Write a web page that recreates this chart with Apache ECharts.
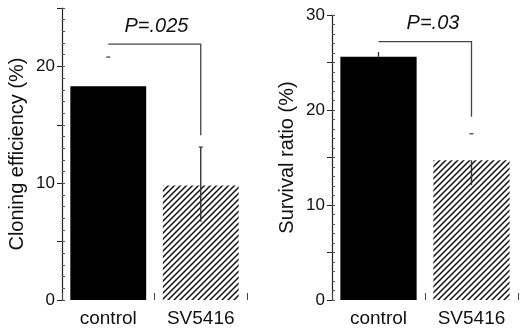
<!DOCTYPE html>
<html>
<head>
<meta charset="utf-8">
<script src="https://cdn.jsdelivr.net/npm/echarts@6/dist/echarts.min.js"></script>
<style>
  html, body { margin: 0; padding: 0; background: #fff; }
  #chart { width: 520px; height: 328px; }
</style>
</head>
<body>
<div id="chart"></div>
<script>
// data
const categories = ["control", "SV5416"];

// left panel: cloning efficiency
const cloneValues = [18.3, 9.8];
const cloneErrLow = [null, 6.7];
const cloneErrHigh = [null, 13.1];
const cloneCap = [20.8, 13.1];
const cloneBracket = [21.9, 14.1]; // horizontal level, end of drop
const cloneP = "P=.025";
const cloneTicks = [0, 10, 20];

// right panel: survival ratio
const survValues = [25.6, 14.7];
const survErrLow = [25.6, 12.1];
const survErrHigh = [26.1, 14.7];
const survCap = [null, 17.5];
const survBracket = [27.2, 19.3];
const survP = "P=.03";
const survTicks = [0, 10, 20, 30];

const FONT = "'Liberation Sans', Arial, sans-serif";

// diagonal hatch for the SV5416 bars
function hatch() {
  const s = 6;
  const c = document.createElement("canvas");
  c.width = s;
  c.height = s;
  const ctx = c.getContext("2d");
  ctx.fillStyle = "#fff";
  ctx.fillRect(0, 0, s, s);
  ctx.strokeStyle = "#111";
  ctx.lineWidth = 1.5;
  ctx.beginPath();
  ctx.moveTo(-1, s + 1); ctx.lineTo(s + 1, -1);
  ctx.moveTo(-1, 1); ctx.lineTo(1, -1);
  ctx.moveTo(s - 1, s + 1); ctx.lineTo(s + 1, s - 1);
  ctx.stroke();
  return { image: c, repeat: "repeat" };
}
const hatchFill = hatch();

function barData(vals) {
  return vals.map((v, i) => ({
    value: v,
    itemStyle: i === 0 ? { color: "#000" } : { color: hatchFill }
  }));
}

// error bars drawn through the axis scales
function errRender(lo, hi, cap) {
  return function (params, api) {
    const i = params.dataIndex;
    const x = api.coord([i, 0])[0];
    const kids = [];
    if (lo[i] != null) {
      const a = api.coord([i, lo[i]]);
      const b = api.coord([i, hi[i]]);
      kids.push({
        type: "line",
        shape: { x1: x, y1: a[1], x2: x, y2: b[1] },
        style: { stroke: "#333", lineWidth: 1.4 }
      });
    }
    if (cap[i] != null) {
      const c = api.coord([i, cap[i]]);
      kids.push({
        type: "line",
        shape: { x1: x - 2, y1: c[1], x2: x + 2, y2: c[1] },
        style: { stroke: "#444", lineWidth: 1.3 }
      });
    }
    return { type: "group", children: kids };
  };
}

// significance bracket plus p value
function bracketRender(br, text, dx) {
  return function (params, api) {
    const p0 = api.coord([0, br[0]]);
    const p1 = api.coord([1, br[0]]);
    const p2 = api.coord([1, br[1]]);
    return {
      type: "group",
      children: [
        {
          type: "polyline",
          shape: { points: [p0, p1, p2] },
          style: { stroke: "#444", lineWidth: 1.3, fill: null }
        },
        {
          type: "text",
          x: (p0[0] + p1[0]) / 2 + dx,
          y: p0[1] - 8,
          style: {
            text: text,
            font: "italic 20px " + FONT,
            fill: "#111",
            textAlign: "center",
            textVerticalAlign: "bottom"
          }
        }
      ]
    };
  };
}

function mainY(gi, max, name, ticks) {
  return {
    gridIndex: gi,
    type: "value",
    position: "left",
    min: 0,
    max: max,
    interval: 5,
    name: name,
    nameLocation: "middle",
    nameGap: 35,
    nameTextStyle: { fontSize: 20, color: "#111", fontFamily: FONT },
    axisLine: { show: true, lineStyle: { color: "#222", width: 1.2 } },
    axisTick: { show: true, length: 5, lineStyle: { color: "#222" } },
    axisLabel: {
      fontSize: 17,
      color: "#111",
      fontFamily: FONT,
      margin: 7,
      formatter: v => (ticks.indexOf(v) >= 0 ? String(v) : "")
    },
    splitLine: { show: false }
  };
}

// second axis on the same side, only for the small inner ticks
function minorY(gi, max) {
  return {
    gridIndex: gi,
    type: "value",
    position: "left",
    offset: 0,
    min: 0,
    max: max,
    interval: 1,
    axisLine: { show: false },
    axisTick: { show: true, inside: true, length: 3, lineStyle: { color: "#555" } },
    axisLabel: { show: false },
    splitLine: { show: false }
  };
}

function catX(gi) {
  return {
    gridIndex: gi,
    type: "category",
    data: categories,
    axisLine: { show: false },
    axisTick: { show: true, inside: true, length: 7, lineStyle: { color: "#444" } },
    axisLabel: { fontSize: 19, color: "#111", fontFamily: FONT, margin: 9 }
  };
}

const chart = echarts.init(document.getElementById("chart"));

const option = {
  backgroundColor: "#fff",
  animation: false,
  grid: [
    { left: 62, top: 8, width: 185, height: 294 },
    { left: 332, top: 15, width: 186, height: 288 }
  ],
  xAxis: [catX(0), catX(1)],
  yAxis: [
    mainY(0, 25, "Cloning efficiency (%)", cloneTicks),
    minorY(0, 25),
    mainY(1, 30, "Survival ratio (%)", survTicks),
    minorY(1, 30)
  ],
  series: [
    {
      type: "bar",
      xAxisIndex: 0,
      yAxisIndex: 0,
      barWidth: "82%",
      data: barData(cloneValues)
    },
    {
      type: "bar",
      xAxisIndex: 1,
      yAxisIndex: 2,
      barWidth: "82%",
      data: barData(survValues)
    },
    {
      type: "custom",
      xAxisIndex: 0,
      yAxisIndex: 0,
      z: 5,
      renderItem: errRender(cloneErrLow, cloneErrHigh, cloneCap),
      data: categories.map((c, i) => [i])
    },
    {
      type: "custom",
      xAxisIndex: 1,
      yAxisIndex: 2,
      z: 5,
      renderItem: errRender(survErrLow, survErrHigh, survCap),
      data: categories.map((c, i) => [i])
    },
    {
      type: "custom",
      xAxisIndex: 0,
      yAxisIndex: 0,
      z: 5,
      renderItem: bracketRender(cloneBracket, cloneP, 2),
      data: [[0]]
    },
    {
      type: "custom",
      xAxisIndex: 1,
      yAxisIndex: 2,
      z: 5,
      renderItem: bracketRender(survBracket, survP, 8),
      data: [[0]]
    }
  ]
};

chart.setOption(option);

window.addEventListener("resize", () => {
  chart.resize();
});
</script>
</body>
</html>
